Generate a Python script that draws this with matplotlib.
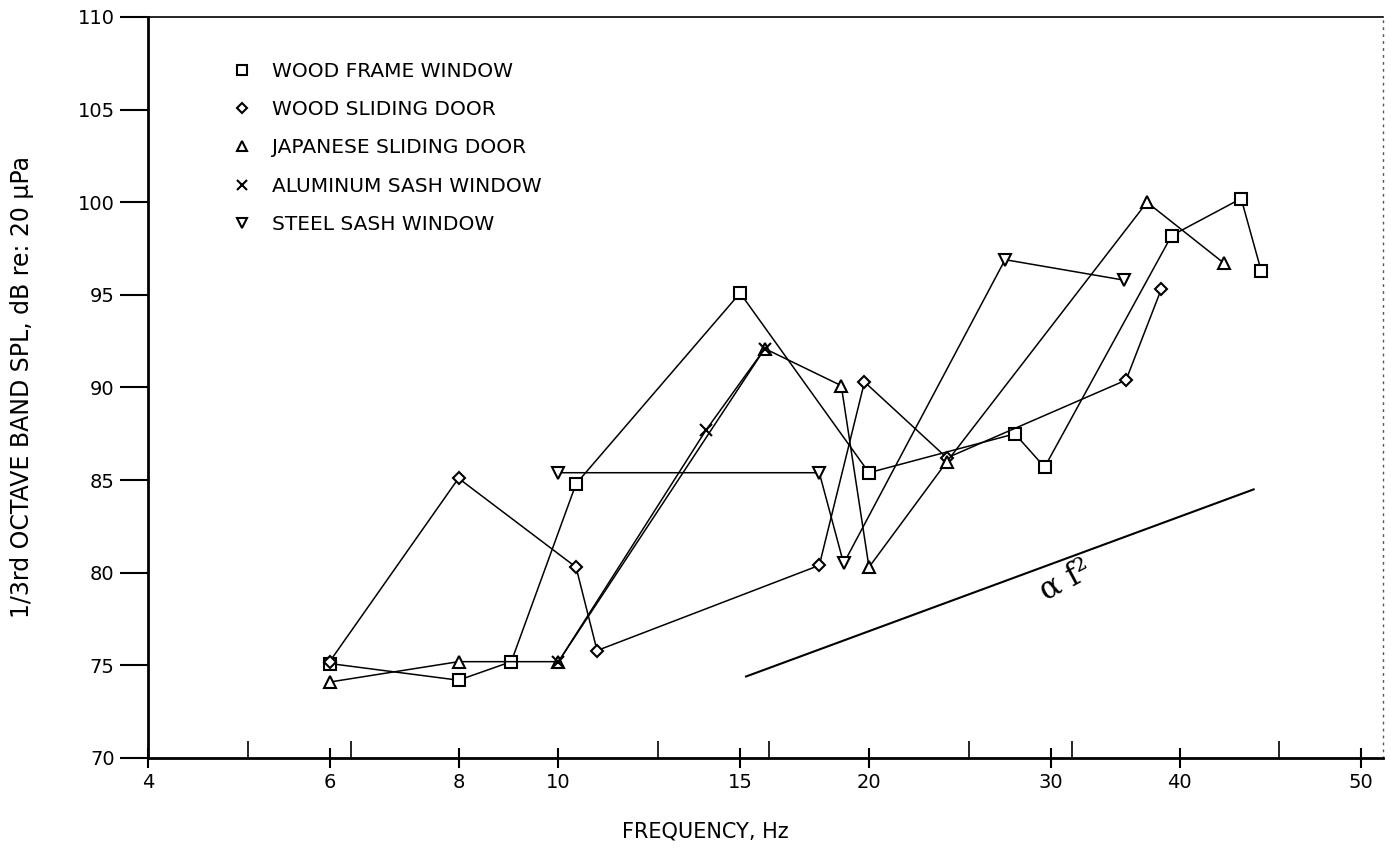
import matplotlib
matplotlib.use("Agg")
import matplotlib.pyplot as plt
from matplotlib.lines import Line2D

# data (frequency in Hz, level in dB)
wood_frame_f = [6, 8, 9, 10.4, 15, 20, 27.7, 29.6, 39.3, 45.9, 48]
wood_frame_db = [75.1, 74.2, 75.2, 84.8, 95.1, 85.4, 87.5, 85.7, 98.2, 100.2, 96.3]

wood_slide_f = [6, 8, 10.4, 10.9, 17.9, 19.8, 23.8, 35.5, 38.4]
wood_slide_db = [75.2, 85.1, 80.3, 75.8, 80.4, 90.3, 86.2, 90.4, 95.3]

japanese_f = [6, 8, 10, 15.85, 18.8, 20, 23.8, 37.2, 44.2]
japanese_db = [74.1, 75.2, 75.2, 92.1, 90.1, 80.3, 86.0, 100.0, 96.7]

aluminum_f = [10, 13.9, 15.85]
aluminum_db = [75.2, 87.7, 92.1]

steel_f = [10, 17.9, 18.9, 27.1, 35.3]
steel_db = [85.4, 85.4, 80.5, 96.9, 95.8]

# reference slope line
slope_f = [15.2, 47.2]
slope_db = [74.4, 84.5]

labels = ['WOOD FRAME WINDOW', 'WOOD SLIDING DOOR', 'JAPANESE SLIDING DOOR',
          'ALUMINUM SASH WINDOW', 'STEEL SASH WINDOW']

major_ticks = [4, 6, 8, 10, 15, 20, 30, 40, 60]
major_labels = ['4', '6', '8', '10', '15', '20', '30', '40', '50']  # last one is printed "50" on the original
minor_ticks = [5, 6.3, 12.5, 16, 25, 31.5, 50]
y_ticks = [70, 75, 80, 85, 90, 95, 100, 105, 110]

plt.rcParams['font.family'] = ['DejaVu Sans']

W, H = 1391, 858
fig = plt.figure(figsize=(W / 100, H / 100), dpi=100)
ax = fig.add_axes([148 / W, 1 - 758 / H, (1383 - 148) / W, (758 - 17) / H])

series = [
    (wood_frame_f, wood_frame_db, 's', 9),
    (wood_slide_f, wood_slide_db, 'D', 6),
    (japanese_f, japanese_db, '^', 9),
    (aluminum_f, aluminum_db, 'x', 8),
    (steel_f, steel_db, 'v', 9),
]

for f, db, m, ms in series:
    ax.plot(f, db, color='black', lw=1.1, marker=m, ms=ms,
            mfc='white', mec='black', mew=1.5, zorder=3)

ax.plot(slope_f, slope_db, color='black', lw=1.5)
ax.text(31.0, 79.6, 'α f²', family='DejaVu Serif', fontsize=22,
        rotation=28, ha='center', va='center')

ax.set_xscale('log')
ax.set_xlim(4, 63)
ax.set_ylim(70, 110)

ax.set_xticks(major_ticks)
ax.set_xticklabels(major_labels)
ax.set_xticks(minor_ticks, minor=True)
ax.xaxis.set_minor_formatter(plt.NullFormatter())
ax.set_yticks(y_ticks)

ax.tick_params(axis='x', which='major', direction='inout', length=14, width=1.5,
               labelsize=14, pad=4)
ax.tick_params(axis='x', which='minor', direction='in', length=12, width=1.2)
ax.tick_params(axis='y', which='major', direction='out', length=20, width=1.5,
               labelsize=14, pad=4)

ax.spines['left'].set_linewidth(2)
ax.spines['bottom'].set_linewidth(2)
ax.spines['top'].set_linewidth(1.2)
ax.spines['right'].set_linewidth(1)
ax.spines['right'].set_linestyle((0, (1, 4)))
ax.spines['right'].set_color('#555555')

# legend: markers only
handles = [Line2D([], [], ls='none', marker=m, ms=ms * 0.85, mfc='white',
                  mec='black', mew=1.5, color='black') for _, _, m, ms in series]
ax.legend(handles, labels, loc='upper left', bbox_to_anchor=(0.068, 0.939),
          frameon=False, fontsize=14.5, handlelength=1, handletextpad=1.0,
          labelspacing=0.95, borderpad=0, borderaxespad=0)

fig.text(705 / W, 1 - 832 / H, 'FREQUENCY, Hz', fontsize=15, ha='center', va='center')
fig.text(22 / W, 1 - 387 / H, '1/3rd OCTAVE BAND SPL, dB re: 20 μPa', fontsize=17,
         rotation=90, ha='center', va='center')

fig.savefig('out.png', dpi=100)
